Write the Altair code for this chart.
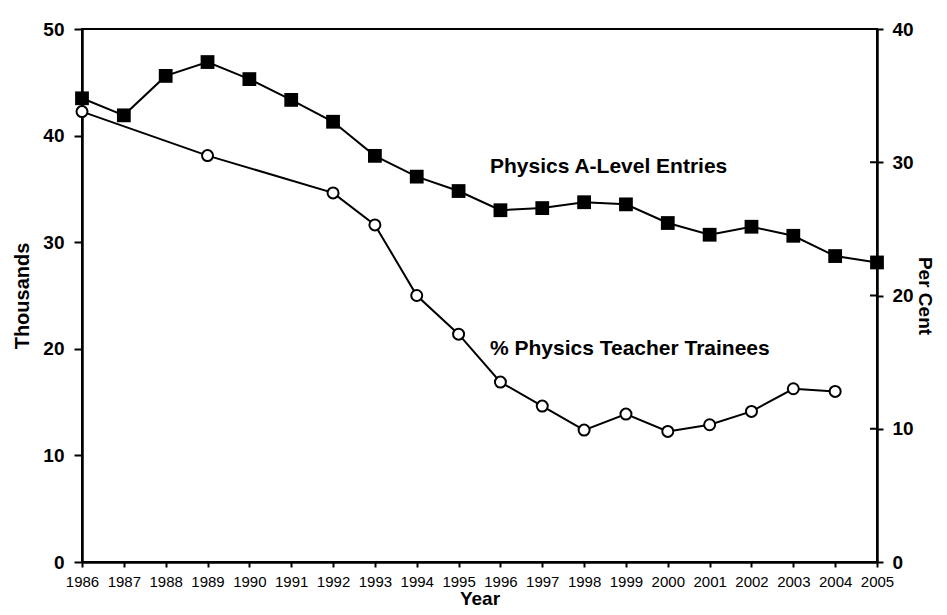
import altair as alt
import pandas as pd

years = list(range(1986, 2006))
entries = [43.5, 41.9, 45.6, 46.9, 45.3, 43.35, 41.3, 38.1, 36.15, 34.8,
           33.0, 33.2, 33.75, 33.55, 31.8, 30.7, 31.45, 30.6, 28.7, 28.1]
trainee_years = [1986, 1989, 1992, 1993, 1994, 1995, 1996, 1997, 1998, 1999,
                 2000, 2001, 2002, 2003, 2004]
trainees = [33.8, 30.5, 27.7, 25.3, 20.0, 17.1, 13.5, 11.7, 9.9, 11.1,
            9.8, 10.3, 11.3, 13.0, 12.8]
label_texts = ["Physics A-Level Entries", "% Physics Teacher Trainees"]
label_years = [1995.75, 1995.75]
label_thousands = [37.06, 19.97]
left_ticks = [0, 10, 20, 30, 40, 50]
right_ticks = [0, 10, 20, 30, 40]

FONT = "Liberation Sans"

df_e = pd.DataFrame({"Year": years, "Thousands": entries})
df_t = pd.DataFrame({"Year": trainee_years, "Pct": trainees})
df_l = pd.DataFrame({"Year": label_years, "Thousands": label_thousands, "text": label_texts})
df_rt = pd.DataFrame({"Pct": right_ticks})

xscale = alt.Scale(domain=[1986, 2005], nice=False, zero=False)
xaxis = alt.Axis(values=years, format="d", title="Year", labelFont=FONT, labelFontSize=15,
                 labelFontWeight="normal", labelColor="black", labelFlush=False,
                 labelOverlap=False, labelPadding=7, tickSize=5, tickWidth=2, tickColor="black",
                 domainColor="black", domainWidth=2.5, grid=False,
                 titleFont=FONT, titleFontSize=19, titleFontWeight="bold", titleColor="black",
                 titlePadding=0)
x = alt.X("Year:Q", scale=xscale, axis=xaxis)

lscale = alt.Scale(domain=[0, 50], nice=False)
laxis = alt.Axis(values=left_ticks, title="Thousands", labelFont=FONT, labelFontSize=19,
                 labelFontWeight="bold", labelColor="black", labelPadding=10, tickSize=8,
                 tickWidth=2, tickColor="black", domainColor="black", domainWidth=2.5,
                 grid=False, titleFont=FONT, titleFontSize=20, titleFontWeight="bold",
                 titleColor="black", titlePadding=10)
rscale = alt.Scale(domain=[0, 40], nice=False)
raxis = alt.Axis(values=right_ticks, orient="right", title="Per Cent", labelFont=FONT,
                 labelFontSize=19, labelFontWeight="bold", labelColor="black", labelPadding=9,
                 tickSize=6, tickWidth=2, tickColor="black", domainColor="black",
                 domainWidth=2.5, grid=False, titleFont=FONT, titleFontSize=19,
                 titleFontWeight="bold", titleColor="black", titlePadding=1, titleAngle=90)

entries_line = alt.Chart(df_e).mark_line(color="black", strokeWidth=2).encode(
    x=x, y=alt.Y("Thousands:Q", scale=lscale, axis=laxis))
entries_pts = alt.Chart(df_e).mark_point(shape="square", filled=True, color="black",
                                         size=190, opacity=1).encode(
    x=x, y=alt.Y("Thousands:Q", scale=lscale))
labels = alt.Chart(df_l).mark_text(align="left", baseline="middle", font=FONT, fontSize=21,
                                   fontWeight="bold", color="black").encode(
    x=x, y=alt.Y("Thousands:Q", scale=lscale), text="text:N")
left = alt.layer(entries_line, entries_pts, labels)

tr_line = alt.Chart(df_t).mark_line(color="black", strokeWidth=2).encode(
    x=x, y=alt.Y("Pct:Q", scale=rscale, axis=raxis))
tr_pts = alt.Chart(df_t).mark_point(shape="circle", filled=True, fill="white", stroke="black",
                                    strokeWidth=2, size=121, opacity=1).encode(
    x=x, y=alt.Y("Pct:Q", scale=rscale))
inner_ticks = alt.Chart(df_rt).mark_rule(color="black", strokeWidth=2).encode(
    y=alt.Y("Pct:Q", scale=rscale), x=alt.value(788), x2=alt.value(795))
right = alt.layer(tr_line, inner_ticks, tr_pts)

chart = alt.layer(left, right).resolve_scale(y="independent").properties(
    width=795, height=533,
    autosize=alt.AutoSizeParams(type="none"),
    padding={"left": 74, "top": 21, "right": 62, "bottom": 45},
    background="white",
).configure_view(stroke="black", strokeWidth=2)

chart.save("out.html", embed_options={"renderer": "svg", "actions": False})
